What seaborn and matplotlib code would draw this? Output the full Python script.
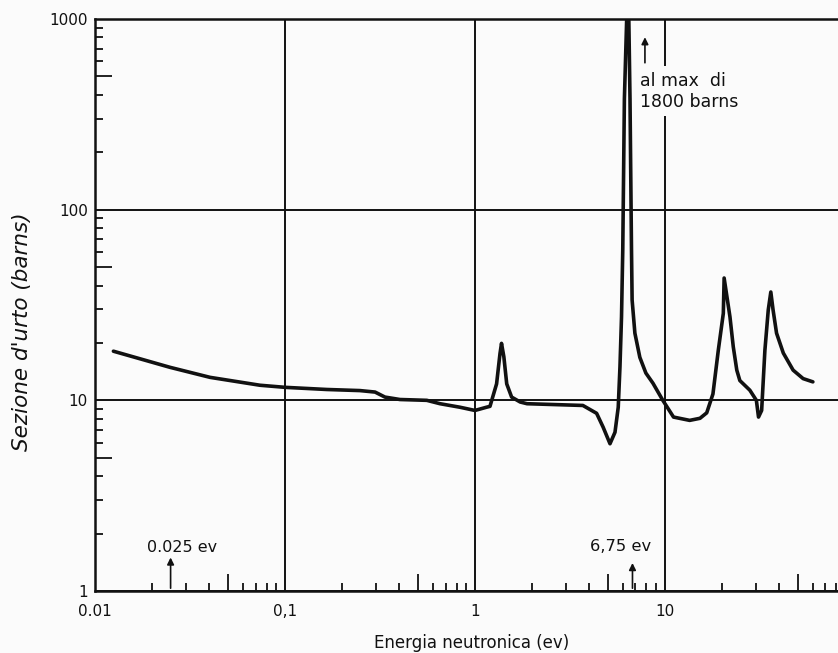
import numpy as np
import pandas as pd
import matplotlib
matplotlib.use("Agg")
import matplotlib.pyplot as plt
import seaborn as sns
from matplotlib.ticker import LogLocator, NullFormatter, FixedLocator, FixedFormatter

# ---- data ----
energy_ev = [0.0125, 0.0248, 0.0403, 0.0738, 0.1, 0.166, 0.248, 0.298, 0.336, 0.403,
             0.558, 0.655, 0.834, 1.0, 1.15, 1.2, 1.30, 1.355, 1.38, 1.42, 1.47, 1.56,
             1.73, 1.88, 3.7, 4.37, 4.73, 5.14, 5.46, 5.68, 5.8, 5.91, 6.0, 6.12, 6.4,
             6.55, 6.67, 6.72, 6.95, 7.38, 7.94, 8.65, 9.75, 11.1, 13.5, 15.3, 16.6,
             17.9, 19.1, 20.3, 20.5, 22.0, 22.9, 23.9, 24.8, 28.0, 30.3, 31.1, 32.3,
             33.6, 35.0, 36.1, 37.1, 38.7, 42.0, 47.3, 53.4, 60.1]
sigma_barns = [18.1, 14.9, 13.2, 12.0, 11.7, 11.4, 11.25, 11.05, 10.4, 10.1,
               10.0, 9.6, 9.2, 8.85, 9.2, 9.3, 12.2, 17.6, 19.9, 16.9, 12.2, 10.4,
               9.8, 9.6, 9.4, 8.55, 7.23, 5.92, 6.8, 9.2, 15.0, 27.4, 61.5, 382, 1800,
               382, 61.5, 33.6, 22.5, 16.8, 13.9, 12.3, 10.0, 8.17, 7.85, 8.05, 8.6,
               10.8, 18.3, 28.6, 43.8, 27.4, 19.1, 14.4, 12.7, 11.3, 10.0, 8.17, 8.85,
               18.3, 29.8, 37.0, 29.8, 22.5, 17.7, 14.4, 13.0, 12.5]

x_major = [0.01, 0.1, 1, 10]
x_labels = ["0.01", "0,1", "1", "10"]
y_major = [1, 10, 100, 1000]
y_labels = ["1", "10", "100", "1000"]

sns.set_theme(style="white")
plt.rcParams["font.family"] = ["DejaVu Sans"]

W, H = 838, 653
fig = plt.figure(figsize=(W / 100, H / 100), dpi=100)
fig.patch.set_facecolor("#fbfbfb")
ax = fig.add_axes([95 / W, 62 / H, 1 - 95 / W, 572 / H])
ax.set_facecolor("#fbfbfb")

df = pd.DataFrame({"E": energy_ev, "s": sigma_barns})
sns.lineplot(data=df, x="E", y="s", sort=False, color="#111111", lw=2.6, ax=ax)

ax.set_xscale("log")
ax.set_yscale("log")
ax.set_xlim(0.01, 81.5)
ax.set_ylim(1, 1000)

# grid at decades
ax.xaxis.set_major_locator(FixedLocator(x_major))
ax.xaxis.set_major_formatter(FixedFormatter(x_labels))
ax.yaxis.set_major_locator(FixedLocator(y_major))
ax.yaxis.set_major_formatter(FixedFormatter(y_labels))
ax.grid(True, which="major", color="#111111", lw=1.4)
ax.grid(False, which="minor")

ax.xaxis.set_minor_locator(LogLocator(base=10, subs=np.arange(2, 10), numticks=20))
ax.yaxis.set_minor_locator(LogLocator(base=10, subs=np.arange(2, 10), numticks=20))
ax.xaxis.set_minor_formatter(NullFormatter())
ax.yaxis.set_minor_formatter(NullFormatter())
ax.tick_params(which="major", length=0, labelsize=11, colors="#111111")
ax.tick_params(axis="x", which="major", pad=9)
ax.tick_params(axis="y", which="major", pad=5)
ax.tick_params(which="minor", direction="in", length=6, width=1.3, color="#111111",
               bottom=True, left=True, top=False, right=False)

for side in ["left", "bottom", "top"]:
    ax.spines[side].set_color("#111111")
    ax.spines[side].set_linewidth(1.8)
ax.spines["right"].set_visible(False)

ax.set_xlabel("Energia neutronica (ev)", fontsize=12, color="#111111")
ax.xaxis.set_label_coords(0.507, -0.075)
ax.set_ylabel("Sezione d'urto (barns)", fontsize=15.5, style="italic", color="#111111")
ax.yaxis.set_label_coords(-0.085, 0.453)

# annotations
arrow = dict(arrowstyle="-|>", color="#111111", lw=1.2, mutation_scale=10)
ax.annotate("", xy=(0.025, 1.55), xytext=(0.025, 1.0), arrowprops=arrow)
ax.text(0.0188, 1.70, "0.025 ev", fontsize=11.5, ha="left", va="center", color="#111111")
ax.annotate("", xy=(6.75, 1.45), xytext=(6.75, 1.0), arrowprops=arrow)
ax.text(4.03, 1.72, "6,75 ev", fontsize=11.8, ha="left", va="center", color="#111111")
ax.annotate("", xy=(7.85, 830), xytext=(7.85, 570), arrowprops=arrow)
ax.text(7.38, 417, "al max  di\n1800 barns", fontsize=12.5, ha="left", va="center",
        color="#111111", linespacing=1.25,
        bbox=dict(boxstyle="square,pad=0.3", fc="#fbfbfb", ec="none"))

fig.canvas.draw()
for axis in (ax.xaxis, ax.yaxis):
    for t, loc in zip(axis.get_minor_ticks(), axis.get_minorticklocs()):
        m = loc / 10 ** np.floor(np.log10(loc) + 1e-9)
        if abs(m - 5) < 1e-6:
            t.tick1line.set_markersize(12)

fig.savefig("out.png", dpi=100, facecolor=fig.get_facecolor())
